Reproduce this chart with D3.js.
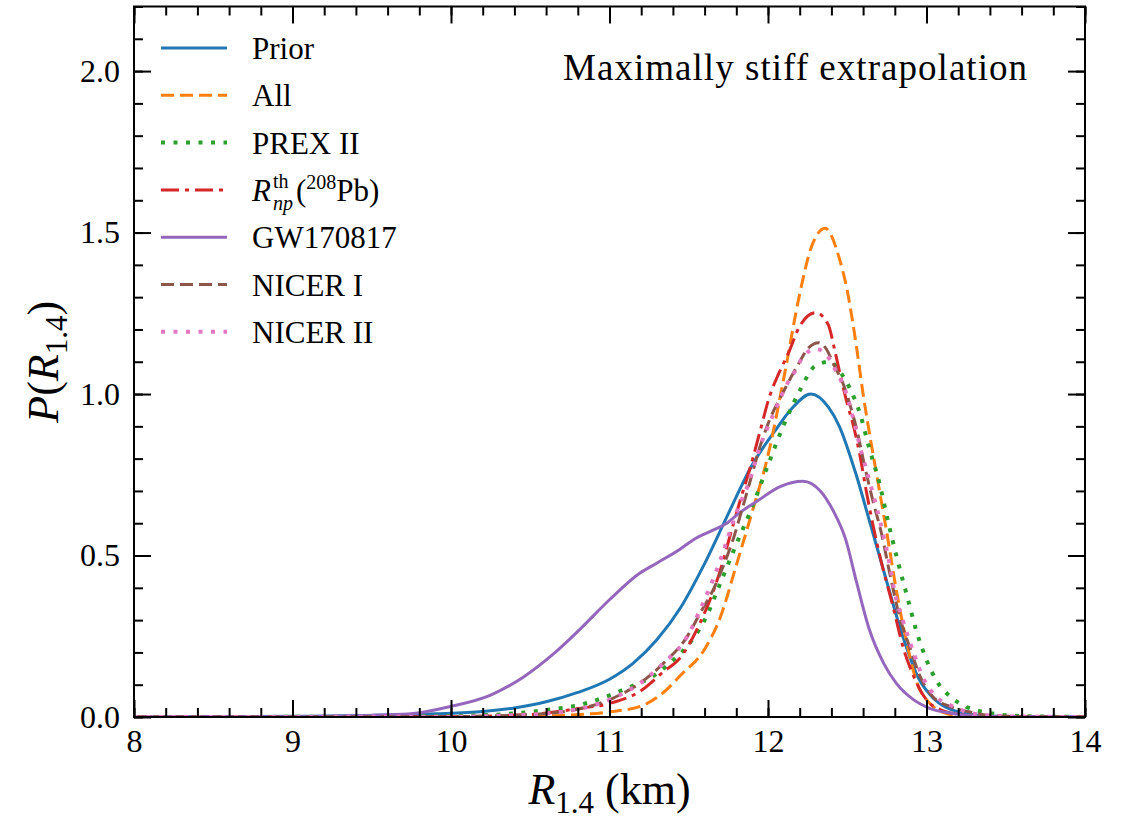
<!DOCTYPE html>
<html>
<head>
<meta charset="utf-8">
<script src="https://cdn.jsdelivr.net/npm/d3@7"></script>
<style>
  html, body { margin: 0; padding: 0; background: #fff; }
  svg { display: block; }
  text { font-family: "Liberation Serif", "DejaVu Serif", serif; fill: #000; }
</style>
</head>
<body>
<svg id="chart" width="1127" height="819"></svg>
<script>
// R_{1.4} grid (km) and probability densities for each posterior
const priorR = [8.0, 9.0, 9.5, 9.9, 10.2, 10.4, 10.6, 10.8, 11.0, 11.15, 11.3, 11.45, 11.6, 11.75, 11.9, 12.05, 12.15, 12.27, 12.38, 12.45, 12.55, 12.65, 12.74, 12.85, 12.95, 13.05, 13.2, 13.4, 13.6, 14.0];
const priorP = [0, 0.002, 0.005, 0.01, 0.017, 0.028, 0.047, 0.076, 0.117, 0.167, 0.24, 0.34, 0.475, 0.63, 0.78, 0.89, 0.955, 1.0, 0.96, 0.90, 0.76, 0.59, 0.435, 0.25, 0.12, 0.055, 0.016, 0.003, 0.0005, 0];

const allR = [8.0, 10.0, 10.4, 10.7, 11.0, 11.2, 11.35, 11.45, 11.6, 11.7, 11.8, 11.9, 12.0, 12.1, 12.2, 12.27, 12.36, 12.45, 12.5, 12.56, 12.6, 12.65, 12.7, 12.76, 12.8, 12.88, 12.94, 13.02, 13.1, 13.2, 13.4, 14.0];
const allP = [0, 0, 0.001, 0.005, 0.016, 0.034, 0.08, 0.13, 0.21, 0.31, 0.47, 0.635, 0.81, 1.05, 1.31, 1.45, 1.513, 1.42, 1.32, 1.14, 1.0, 0.85, 0.71, 0.54, 0.42, 0.22, 0.105, 0.043, 0.015, 0.004, 0, 0];

const prexR = [8.0, 9.5, 10.0, 10.4, 10.6, 10.8, 11.1, 11.3, 11.4, 11.5, 11.6, 11.7, 11.8, 11.9, 12.0, 12.1, 12.2, 12.3, 12.39, 12.46, 12.52, 12.58, 12.64, 12.7, 12.76, 12.82, 12.88, 12.94, 13.0, 13.06, 13.15, 13.25, 13.4, 13.6, 14.0];
const prexP = [0, 0.001, 0.003, 0.011, 0.022, 0.036, 0.087, 0.135, 0.175, 0.225, 0.30, 0.415, 0.535, 0.65, 0.78, 0.905, 1.01, 1.088, 1.10, 1.065, 1.014, 0.94, 0.83, 0.73, 0.60, 0.48, 0.37, 0.26, 0.177, 0.115, 0.063, 0.032, 0.012, 0.003, 0];

const rnpR = [8.0, 10.0, 10.3, 10.56, 10.8, 11.0, 11.2, 11.34, 11.44, 11.57, 11.69, 11.76, 11.82, 11.89, 11.95, 12.01, 12.07, 12.13, 12.2, 12.3, 12.38, 12.42, 12.46, 12.5, 12.54, 12.58, 12.62, 12.66, 12.71, 12.79, 12.85, 12.92, 13.0, 13.09, 13.2, 13.35, 14.0];
const rnpP = [0, 0.001, 0.004, 0.01, 0.026, 0.042, 0.082, 0.14, 0.18, 0.29, 0.44, 0.56, 0.663, 0.776, 0.885, 0.993, 1.066, 1.128, 1.21, 1.252, 1.215, 1.138, 1.05, 0.97, 0.90, 0.81, 0.70, 0.60, 0.49, 0.34, 0.22, 0.125, 0.053, 0.022, 0.008, 0.001, 0];

const gwR = [8.0, 9.0, 9.55, 9.76, 9.99, 10.25, 10.46, 10.65, 10.81, 11.0, 11.19, 11.3, 11.44, 11.53, 11.66, 11.74, 11.82, 11.93, 12.08, 12.22, 12.33, 12.41, 12.49, 12.56, 12.64, 12.73, 12.81, 12.92, 13.02, 13.17, 13.4, 14.0];
const gwP = [0, 0.001, 0.006, 0.011, 0.032, 0.068, 0.125, 0.197, 0.27, 0.363, 0.445, 0.477, 0.518, 0.549, 0.58, 0.60, 0.632, 0.668, 0.714, 0.73, 0.70, 0.64, 0.55, 0.415, 0.27, 0.166, 0.104, 0.053, 0.027, 0.011, 0.002, 0];

const nicer1R = [8.0, 10.0, 10.3, 10.6, 10.87, 11.02, 11.19, 11.34, 11.49, 11.57, 11.66, 11.72, 11.78, 11.83, 11.89, 11.95, 12.01, 12.09, 12.2, 12.25, 12.32, 12.37, 12.41, 12.48, 12.52, 12.56, 12.61, 12.66, 12.72, 12.77, 12.83, 12.9, 12.96, 13.04, 13.15, 13.27, 13.45, 14.0];
const nicer1P = [0, 0.001, 0.004, 0.011, 0.032, 0.058, 0.104, 0.166, 0.249, 0.32, 0.40, 0.47, 0.55, 0.632, 0.735, 0.838, 0.92, 1.0, 1.10, 1.14, 1.159, 1.138, 1.096, 1.024, 0.962, 0.89, 0.776, 0.673, 0.56, 0.44, 0.311, 0.208, 0.125, 0.063, 0.032, 0.016, 0.003, 0];

const nicer2R = [8.0, 10.0, 10.3, 10.6, 10.87, 11.02, 11.19, 11.34, 11.49, 11.57, 11.7, 11.75, 11.8, 11.87, 11.94, 12.0, 12.05, 12.09, 12.13, 12.17, 12.21, 12.3, 12.39, 12.43, 12.48, 12.54, 12.58, 12.65, 12.71, 12.77, 12.8, 12.85, 12.92, 12.98, 13.06, 13.17, 13.3, 13.5, 14.0];
const nicer2P = [0, 0.001, 0.004, 0.011, 0.032, 0.058, 0.104, 0.166, 0.249, 0.33, 0.487, 0.56, 0.632, 0.714, 0.823, 0.90, 0.955, 1.0, 1.04, 1.07, 1.107, 1.14, 1.107, 1.07, 1.02, 0.92, 0.838, 0.714, 0.60, 0.466, 0.384, 0.30, 0.197, 0.12, 0.063, 0.032, 0.01, 0.002, 0];

const xTicks = [8, 9, 10, 11, 12, 13, 14];
const yTicks = [0.0, 0.5, 1.0, 1.5, 2.0];

const series = [
  { key: "prior",  r: priorR,  p: priorP,  color: "#1f77b4", dash: null,       w: 3 },
  { key: "all",    r: allR,    p: allP,    color: "#ff7f0e", dash: "13,6",     w: 3 },
  { key: "prex",   r: prexR,   p: prexP,   color: "#2ca02c", dash: "4,8.5",    w: 4 },
  { key: "rnp",    r: rnpR,    p: rnpP,    color: "#d62728", dash: "18,6,4,6", w: 3 },
  { key: "gw",     r: gwR,     p: gwP,     color: "#9467bd", dash: null,       w: 3 },
  { key: "nicer1", r: nicer1R, p: nicer1P, color: "#8c564b", dash: "13,6",     w: 3 },
  { key: "nicer2", r: nicer2R, p: nicer2P, color: "#e377c2", dash: "4,8.5",    w: 4 }
];

const svg = d3.select("#chart");
const plotL = 134, plotR = 1085, plotT = 6.5, plotB = 717;

const x = d3.scaleLinear().domain([8, 14]).range([plotL, plotR]);
const y = d3.scaleLinear().domain([0, 2.2]).range([plotB, plotT]);

// Density curves
const line = d3.line()
  .x(d => x(d[0]))
  .y(d => y(d[1]))
  .curve(d3.curveMonotoneX);

svg.append("defs").append("clipPath").attr("id", "plotclip")
  .append("rect").attr("x", plotL).attr("y", plotT).attr("width", plotR - plotL).attr("height", plotB - plotT);

const curves = svg.append("g").attr("clip-path", "url(#plotclip)");
series.forEach(s => {
  const pts = s.r.map((r, i) => [r, s.p[i]]);
  curves.append("path")
    .attr("d", line(pts))
    .attr("fill", "none")
    .attr("stroke", s.color)
    .attr("stroke-width", s.w)
    .attr("stroke-dasharray", s.dash)
    .attr("stroke-linejoin", "round");
});

// Axes with inward ticks on all four sides
const majorLen = 17, minorLen = 9;
const xMinor = d3.range(8, 14.0001, 0.2).map(v => +v.toFixed(1));
const yMinor = d3.range(0, 2.2001, 0.1).map(v => +v.toFixed(1));

function styleAxis(g) {
  g.selectAll(".domain").remove();
  g.selectAll(".tick line").attr("stroke", "#000").attr("stroke-width", 2);
  g.selectAll(".tick text").style("font-size", "32px").style("font-family", "'Liberation Serif', serif");
}

svg.append("g").attr("transform", `translate(0,${plotB})`)
  .call(d3.axisBottom(x).tickValues(xMinor).tickSize(-minorLen).tickFormat(""))
  .call(styleAxis);
svg.append("g").attr("transform", `translate(0,${plotB})`)
  .call(d3.axisBottom(x).tickValues(xTicks).tickSize(-majorLen).tickPadding(12).tickFormat(d3.format("d")))
  .call(styleAxis);
svg.append("g").attr("transform", `translate(0,${plotT})`)
  .call(d3.axisTop(x).tickValues(xMinor).tickSize(-minorLen).tickFormat(""))
  .call(styleAxis);
svg.append("g").attr("transform", `translate(0,${plotT})`)
  .call(d3.axisTop(x).tickValues(xTicks).tickSize(-majorLen).tickFormat(""))
  .call(styleAxis);

svg.append("g").attr("transform", `translate(${plotL},0)`)
  .call(d3.axisLeft(y).tickValues(yMinor).tickSize(-minorLen).tickFormat(""))
  .call(styleAxis);
svg.append("g").attr("transform", `translate(${plotL},0)`)
  .call(d3.axisLeft(y).tickValues(yTicks).tickSize(-majorLen).tickPadding(14).tickFormat(d3.format(".1f")))
  .call(styleAxis);
svg.append("g").attr("transform", `translate(${plotR},0)`)
  .call(d3.axisRight(y).tickValues(yMinor).tickSize(-minorLen).tickFormat(""))
  .call(styleAxis);
svg.append("g").attr("transform", `translate(${plotR},0)`)
  .call(d3.axisRight(y).tickValues(yTicks).tickSize(-majorLen).tickFormat(""))
  .call(styleAxis);

// Frame
svg.append("rect")
  .attr("x", plotL).attr("y", plotT)
  .attr("width", plotR - plotL).attr("height", plotB - plotT)
  .attr("fill", "none").attr("stroke", "#000").attr("stroke-width", 2);

// Axis titles, centred on their axes
const xt = svg.append("text")
  .attr("x", (plotL + plotR) / 2).attr("y", 804)
  .attr("text-anchor", "middle")
  .style("font-size", "44px");
xt.append("tspan").style("font-style", "italic").text("R");
xt.append("tspan").attr("dy", 9).style("font-size", "31px").text("1.4");
xt.append("tspan").attr("dy", -9).text(" (km)");

const yt = svg.append("text")
  .attr("transform", `translate(58,${(plotT + plotB) / 2}) rotate(-90)`)
  .attr("text-anchor", "middle")
  .style("font-size", "44px");
yt.append("tspan").style("font-style", "italic").text("P");
yt.append("tspan").text("(");
yt.append("tspan").style("font-style", "italic").text("R");
yt.append("tspan").attr("dy", 9).style("font-size", "31px").text("1.4");
yt.append("tspan").attr("dy", -9).text(")");

// Annotation
svg.append("text")
  .attr("x", 563).attr("y", 80)
  .attr("textLength", 464).attr("lengthAdjust", "spacing")
  .style("font-size", "37px")
  .text("Maximally stiff extrapolation");

// Legend
const legendLabels = ["Prior", "All", "PREX II", null, "GW170817", "NICER I", "NICER II"];
const legY0 = 48, legStep = 47.3;
const leg = svg.append("g");
series.forEach((s, i) => {
  const ly = legY0 + i * legStep;
  leg.append("line")
    .attr("x1", 161).attr("x2", 227).attr("y1", ly).attr("y2", ly)
    .attr("stroke", s.color).attr("stroke-width", s.w)
    .attr("stroke-dasharray", s.dash);
  const base = ly + 11;
  if (legendLabels[i] !== null) {
    leg.append("text").attr("x", 252).attr("y", base).style("font-size", "31px").text(legendLabels[i]);
  } else {
    // R^{th}_{np}(^{208}Pb): script parts set as their own text runs
    leg.append("text").attr("x", 252).attr("y", base).style("font-size", "31px")
      .style("font-style", "italic").text("R");
    leg.append("text").attr("x", 273).attr("y", base - 13).style("font-size", "20px").text("th");
    leg.append("text").attr("x", 273).attr("y", base + 9).style("font-size", "20px")
      .style("font-style", "italic").text("np");
    const tail = leg.append("text").attr("x", 296).attr("y", base).style("font-size", "31px");
    tail.append("tspan").text("(");
    tail.append("tspan").attr("dy", -12).style("font-size", "20px").text("208");
    tail.append("tspan").attr("dy", 12).text("Pb)");
  }
});
</script>
</body>
</html>
